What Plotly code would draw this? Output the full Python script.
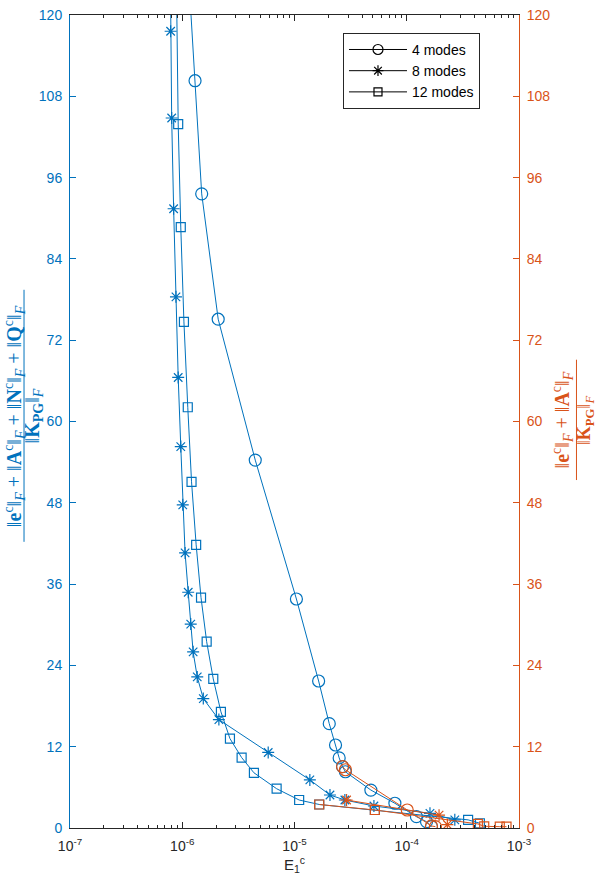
import plotly.graph_objects as go

# Data (x: E1^c, y: normalised norm)
blue = '#0072BD'
orange = '#D95319'

# 4 modes, numerator with e, A, N, Q (left axis)
m4_x = [1.12e-6, 1.30e-6, 1.49e-6, 2.09e-6, 4.47e-6, 1.04e-5, 1.64e-5, 2.04e-5, 2.32e-5,
        2.50e-5, 2.68e-5, 2.84e-5, 4.79e-5, 7.84e-5, 1.22e-4, 1.50e-4, 1.66e-4]
m4_y = [128, 110.3, 93.6, 75.1, 54.3, 33.8, 21.7, 15.4, 12.25,
        10.35, 9.05, 8.3, 5.6, 3.65, 1.67, 0.93, 0.2]

# 8 modes
m8_x = [7.8e-7, 7.88e-7, 8.05e-7, 8.38e-7, 8.79e-7, 9.2e-7, 9.7e-7, 1.01e-6, 1.06e-6, 1.13e-6,
        1.19e-6, 1.25e-6, 1.36e-6, 1.54e-6, 2.12e-6, 5.83e-6, 1.37e-5, 2.07e-5, 2.81e-5,
        5.1e-5, 1.61e-4, 2.68e-4]
m8_y = [130, 117.6, 104.8, 91.4, 78.4, 66.5, 56.3, 47.7, 40.6, 34.8,
        30.1, 26.0, 22.3, 19.1, 16.0, 11.15, 7.1, 4.87, 4.13,
        3.25, 2.17, 1.2]

# 12 modes
m12_x = [8.8e-7, 9.2e-7, 9.7e-7, 1.035e-6, 1.12e-6, 1.21e-6, 1.33e-6, 1.47e-6, 1.65e-6,
         1.89e-6, 2.21e-6, 2.66e-6, 3.38e-6, 4.35e-6, 6.93e-6, 1.10e-5, 1.66e-5, 5.2e-5,
         3.52e-4, 4.48e-4]
m12_y = [130, 103.9, 88.7, 74.7, 62.1, 51.1, 41.8, 34.0, 27.5,
         22.0, 17.15, 13.2, 10.4, 8.15, 5.8, 4.13, 3.47, 2.66,
         1.2, 0.7]

# numerator with e, A only (right axis)
r4_x = [2.68e-5, 2.84e-5, 1.01e-4, 1.66e-4, 1.80e-4]
r4_y = [9.05, 8.6, 2.66, 0.3, 0.2]
r8_x = [2.91e-5, 1.94e-4, 2.3e-4]
r8_y = [4.13, 1.9, 0.5]
r12_x = [1.66e-5, 5.2e-5, 4.3e-4, 4.9e-4, 6.74e-4, 7.74e-4]
r12_y = [3.47, 2.66, 0.6, 0.25, 0.2, 0.2]

legend_names = ['4 modes', '8 modes', '12 modes']
xticks = [1e-7, 1e-6, 1e-5, 1e-4, 1e-3]
xticktext = ['10<sup>-7</sup>', '10<sup>-6</sup>', '10<sup>-5</sup>', '10<sup>-4</sup>', '10<sup>-3</sup>']
yticks = list(range(0, 121, 12))

font = 'Liberation Sans, Arial, sans-serif'
serif = 'Liberation Serif, DejaVu Serif, serif'

# minor log ticks 2..9 in each decade
minor_ticks = [k * d for d in xticks[:-1] for k in range(2, 10)]


def series(x, y, symbol, size, color, yaxis='y'):
    return go.Scatter(x=x, y=y, mode='lines+markers', yaxis=yaxis, showlegend=False,
                      line=dict(color=color, width=1),
                      marker=dict(symbol=symbol, size=size, color=color,
                                  line=dict(color=color, width=1.2)))


fig = go.Figure()
fig.add_trace(series(m4_x, m4_y, 'circle-open', 12, blue))
fig.add_trace(series(m8_x, m8_y, 'asterisk-open', 10, blue))
fig.add_trace(series(m12_x, m12_y, 'square-open', 9, blue))
fig.add_trace(series(r4_x, r4_y, 'circle-open', 12, orange, 'y2'))
fig.add_trace(series(r8_x, r8_y, 'asterisk-open', 10, orange, 'y2'))
fig.add_trace(series(r12_x, r12_y, 'square-open', 9, orange, 'y2'))

# legend entries in black
for name, sym, size in zip(legend_names, ['circle-open', 'asterisk-open', 'square-open'], [10, 9, 8]):
    fig.add_trace(go.Scatter(x=[None], y=[None], mode='lines+markers', name=name,
                             line=dict(color='black', width=1),
                             marker=dict(symbol=sym, size=size, color='black',
                                         line=dict(color='black', width=1.2))))

fig.update_layout(
    width=598, height=894,
    margin=dict(l=70, r=79, t=15, b=66, autoexpand=False),
    plot_bgcolor='white', paper_bgcolor='white',
    font=dict(family=font, size=14, color='#262626'),
    legend=dict(x=0.608, y=0.978, xanchor='left', yanchor='top',
                bordercolor='#262626', borderwidth=1, bgcolor='white', itemwidth=58,
                font=dict(size=14, color='black'), tracegroupgap=0),
    xaxis=dict(type='log', range=[-7, -3], tickvals=xticks, ticktext=xticktext,
               ticks='inside', ticklen=6, tickcolor='#262626', showline=True,
               linecolor='#262626', linewidth=1, mirror='ticks', showgrid=False,
               zeroline=False, tickfont=dict(size=14, color='#262626'), ticklabelstandoff=5,
               minor=dict(tickvals=minor_ticks, ticks='inside', ticklen=3,
                          tickcolor='#262626', showgrid=False),
               title=dict(text='E<sub>1</sub><sup>c</sup>', font=dict(size=15, color='#262626'),
                          standoff=3)),
    yaxis=dict(range=[0, 120], tickvals=yticks, ticks='inside', ticklen=6,
               tickcolor=blue, showline=True, linecolor=blue, linewidth=1,
               showgrid=False, zeroline=False, tickfont=dict(size=14, color=blue),
               ticklabelstandoff=4),
    yaxis2=dict(range=[0, 120], tickvals=yticks, ticks='inside', ticklen=6,
                tickcolor=orange, showline=True, linecolor=orange, linewidth=1,
                overlaying='y', side='right', showgrid=False, zeroline=False,
                tickfont=dict(size=14, color=orange), ticklabelstandoff=4),
)

left_num = ('‖<b>e</b><sup>c</sup>‖<sub><i>F</i></sub> + ‖<b>A</b><sup>c</sup>‖<sub><i>F</i></sub>'
            ' + ‖<b>N</b><sup>c</sup>‖<sub><i>F</i></sub> + ‖<b>Q</b><sup>c</sup>‖<sub><i>F</i></sub>')
right_num = '‖<b>e</b><sup>c</sup>‖<sub><i>F</i></sub> + ‖<b>A</b><sup>c</sup>‖<sub><i>F</i></sub>'
den = '‖<b>K</b><sub><b>PG</b></sub>‖<sub><i>F</i></sub>'

ann = [
    (-0.124, 0.507, left_num, blue, 20),
    (-0.081, 0.507, den, blue, 20),
    (1.097, 0.502, right_num, orange, 20),
    (1.150, 0.502, den, orange, 18),
]
for x, y, text, color, size in ann:
    fig.add_annotation(x=x, y=y, xref='paper', yref='paper', text=text, textangle=-90,
                       xanchor='center', yanchor='middle',
                       showarrow=False, font=dict(family=serif, size=size, color=color))

fig.add_shape(type='line', xref='paper', yref='paper', x0=-0.1024, x1=-0.1024,
              y0=0.352, y1=0.662, line=dict(color=blue, width=1))
fig.add_shape(type='line', xref='paper', yref='paper', x0=1.128, x1=1.128,
              y0=0.428, y1=0.576, line=dict(color=orange, width=1))

# drop the default 8 px body margin so the figure fills the window exactly
fig.write_html('out.html', config={'displayModeBar': False},
               post_script="document.body.style.margin='0';")
